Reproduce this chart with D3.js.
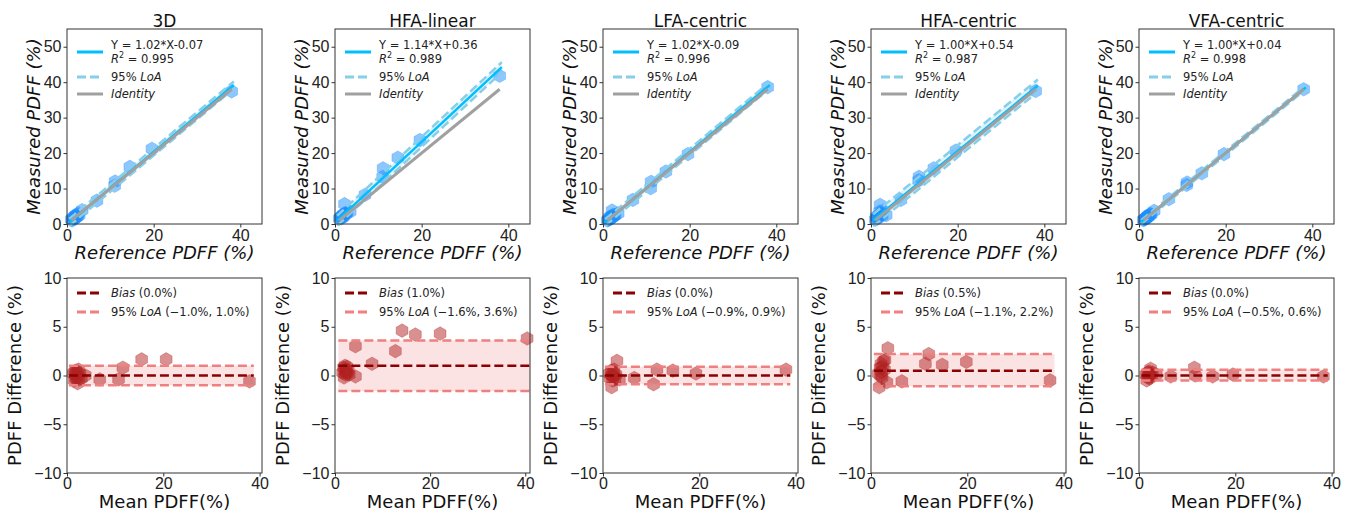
<!DOCTYPE html>
<html>
<head>
<meta charset="utf-8">
<script src="https://cdn.jsdelivr.net/npm/d3@7"></script>
<style>
    body { margin: 0; background: #fff; }
    svg { font-family: "DejaVu Sans", sans-serif; }
    .tick text { fill: #222; }
    .tick line { stroke: #333; }
</style>
</head>
<body>
<div id="chart"></div>
<script>
// methods, one column of panels each
const methods = ["3D", "HFA-linear", "LFA-centric", "HFA-centric", "VFA-centric"];

// regression fit (top row)
const fitSlope = [1.02, 1.14, 1.02, 1.00, 1.00];
const fitIntercept = [-0.07, 0.36, -0.09, 0.54, 0.04];
const fitR2 = [0.995, 0.989, 0.996, 0.987, 0.998];
const fitLoaOffset = [1.0, 1.4, 0.9, 1.7, 0.55];
const fitRange = [0.5, 38.5];
const identityRange = [1.0, 38.0];

// reference PDFF, same subjects in every method
const refPdff = [1.0, 1.2, 1.4, 1.5, 1.6, 1.8, 1.9, 2.0, 2.1, 2.2, 2.4, 2.6, 2.8, 3.5, 6.9, 11.0, 11.1, 14.5, 19.6, 38.0];

const measuredPdff = [
    [1.3, 1.0, 1.8, 1.6, 1.4, 2.2, 1.7, 2.4, 2.0, 2.6, 2.1, 3.0, 2.5, 3.9, 6.6, 10.8, 12.0, 16.1, 21.2, 37.4],
    [1.5, 1.8, 2.0, 1.6, 2.2, 2.5, 2.0, 2.8, 2.4, 5.6, 3.0, 2.9, 3.3, 3.5, 8.2, 13.3, 15.7, 18.7, 23.7, 41.8],
    [1.0, 1.3, 1.2, 1.9, 1.5, 1.6, 2.2, 1.8, 3.8, 2.0, 2.6, 2.3, 2.5, 3.0, 6.8, 10.1, 11.9, 14.8, 19.7, 38.6],
    [1.2, 1.9, 1.6, 2.2, 1.8, 2.5, 2.3, 3.5, 5.4, 2.9, 3.0, 2.4, 3.8, 2.5, 6.8, 12.3, 13.3, 15.7, 20.7, 37.5],
    [1.1, 1.3, 1.5, 1.6, 1.5, 1.9, 2.0, 2.2, 2.0, 2.5, 2.4, 2.8, 2.7, 3.7, 7.0, 11.0, 11.7, 14.3, 19.7, 38.0]
];

// Bland-Altman (bottom row)
const baMean = [
    [1.3, 1.5, 1.6, 1.7, 1.8, 1.9, 2.0, 2.1, 2.2, 2.4, 2.5, 2.7, 3.0, 3.8, 6.8, 10.7, 11.6, 15.5, 20.6, 37.9],
    [1.6, 1.8, 1.9, 2.0, 2.1, 2.2, 2.3, 2.4, 2.5, 2.6, 2.8, 3.0, 4.3, 4.3, 7.8, 12.7, 14.1, 16.9, 22.1, 40.4],
    [1.3, 1.5, 1.7, 1.8, 1.9, 2.0, 2.1, 2.2, 2.3, 2.5, 2.7, 2.9, 3.4, 6.5, 10.5, 11.2, 14.5, 19.3, 38.0],
    [1.5, 1.7, 1.9, 2.0, 2.1, 2.2, 2.3, 2.4, 2.6, 2.8, 2.9, 3.3, 3.5, 6.4, 11.3, 12.0, 14.8, 19.8, 37.2],
    [1.4, 1.6, 1.8, 1.9, 2.0, 2.1, 2.2, 2.3, 2.4, 2.6, 2.8, 3.6, 6.6, 11.5, 11.7, 15.3, 19.5, 38.3]
];
const baDiff = [
    [0.2, -0.5, 0.4, 0.1, -0.3, 0.5, -0.2, 0.3, -0.8, 0.6, -0.4, 0.2, -0.3, 0.0, -0.4, -0.4, 0.8, 1.65, 1.65, -0.6],
    [0.3, 0.8, -0.2, 0.5, 1.0, 0.1, 0.6, 0.3, 0.9, 0.2, 0.5, 0.1, 3.0, -0.1, 1.2, 2.5, 4.6, 4.2, 4.3, 3.8],
    [0.2, -0.3, 0.5, -1.2, 0.0, -0.5, 0.3, -0.1, 0.6, -0.4, 0.1, 1.5, -0.4, -0.25, -0.9, 0.6, 0.5, 0.2, 0.6],
    [0.2, -1.2, 0.8, 0.0, 1.2, 0.4, -0.2, 0.9, 1.5, 0.6, 1.6, -0.7, 2.8, -0.6, 1.2, 2.2, 1.1, 1.4, -0.5],
    [0.1, -0.5, 0.3, -0.2, 0.0, 0.4, -0.3, 0.2, 0.7, -0.1, 0.3, 0.1, -0.1, 0.8, 0.0, -0.1, 0.1, -0.1]
];
const baBias = [0.0, 1.0, 0.0, 0.5, 0.0];
const baLoaLow = [-1.0, -1.6, -0.9, -1.1, -0.5];
const baLoaHigh = [1.0, 3.6, 0.9, 2.2, 0.6];
const baXMax = [40.5, 41, 40.5, 40.5, 40.5];

const topXTicks = [0, 20, 40];
const topYTicks = [0, 10, 20, 30, 40, 50];
const baXTicks = [0, 20, 40];
const baYTicks = [-10, -5, 0, 5, 10];

const width = 1348, height = 514;
const panelW = 195, panelH = 195;
const topY = 29, bottomY = 278;
const panelLeft = i => 67 + i * 268;

const svg = d3.select("#chart").append("svg")
    .attr("width", width)
    .attr("height", height);
svg.append("rect").attr("width", width).attr("height", height).attr("fill", "#fff");

// matplotlib style 'h' marker
const hexagon = {
    draw(context, size) {
        const r = Math.sqrt(size / (1.5 * Math.sqrt(3)));
        for (let k = 0; k < 6; k++) {
            const a = Math.PI / 2 + k * Math.PI / 3;
            const px = r * Math.cos(a), py = -r * Math.sin(a);
            if (k === 0) context.moveTo(px, py); else context.lineTo(px, py);
        }
        context.closePath();
    }
};
const marker = d3.symbol().type(hexagon).size(120);
const fmt1 = d3.format(".1f");

function styleAxis(g) {
    g.select(".domain").remove();
    g.selectAll(".tick text").style("font-size", "16px");
    g.selectAll(".tick line").attr("stroke-width", 1);
}

function frame(g) {
    g.append("rect")
        .attr("width", panelW).attr("height", panelH)
        .attr("fill", "none").attr("stroke", "#333").attr("stroke-width", 1);
}

function drawTop(i) {
    const g = svg.append("g").attr("transform", `translate(${panelLeft(i)},${topY})`);
    const x = d3.scaleLinear().domain([0, 45]).range([0, panelW]);
    const y = d3.scaleLinear().domain([0, 55]).range([panelH, 0]);
    const fit = v => fitSlope[i] * v + fitIntercept[i];

    g.append("g").attr("transform", `translate(0,${panelH})`)
        .call(d3.axisBottom(x).tickValues(topXTicks).tickSize(3.5).tickPadding(2))
        .call(styleAxis);
    g.append("g")
        .call(d3.axisLeft(y).tickValues(topYTicks).tickSize(3.5).tickPadding(2))
        .call(styleAxis);

    g.append("path")
        .datum(fitRange)
        .attr("fill", "#87ceeb").attr("opacity", 0.25)
        .attr("d", d3.area().x(d => x(d))
            .y0(d => y(fit(d) - fitLoaOffset[i]))
            .y1(d => y(fit(d) + fitLoaOffset[i])));

    g.selectAll(".pt")
        .data(refPdff.map((r, k) => [r, measuredPdff[i][k]]))
        .join("path")
        .attr("class", "pt")
        .attr("transform", d => `translate(${x(d[0])},${y(d[1])})`)
        .attr("d", marker)
        .attr("fill", "#1e90ff").attr("fill-opacity", 0.5)
        .attr("stroke", "#1e90ff").attr("stroke-opacity", 0.3);

    const line = d3.line().x(d => x(d[0])).y(d => y(d[1]));
    [-1, 1].forEach(s => {
        g.append("path")
            .datum(fitRange.map(v => [v, fit(v) + s * fitLoaOffset[i]]))
            .attr("fill", "none").attr("stroke", "#87ceeb").attr("stroke-width", 2.5)
            .attr("stroke-dasharray", "9,4").attr("d", line);
    });
    g.append("path")
        .datum(fitRange.map(v => [v, fit(v)]))
        .attr("fill", "none").attr("stroke", "#00bfff").attr("stroke-width", 2.5)
        .attr("d", line);
    g.append("path")
        .datum(identityRange.map(v => [v, v]))
        .attr("fill", "none").attr("stroke", "#a0a0a0").attr("stroke-width", 3)
        .attr("d", line);

    frame(g);

    // legend
    const lg = g.append("g").style("font-size", "11.5px").attr("fill", "#222");
    lg.append("line").attr("x1", 10).attr("x2", 36).attr("y1", 23).attr("y2", 23)
        .attr("stroke", "#00bfff").attr("stroke-width", 3);
    const sign = fitIntercept[i] < 0 ? "-" : "+";
    lg.append("text").attr("x", 44).attr("y", 20)
        .text(`Y = ${fitSlope[i].toFixed(2)}*X${sign}${Math.abs(fitIntercept[i]).toFixed(2)}`);
    const r2 = lg.append("text").attr("x", 44).attr("y", 34);
    r2.append("tspan").attr("font-style", "italic").text("R");
    r2.append("tspan").attr("dy", -5).style("font-size", "8px").text("2");
    r2.append("tspan").attr("dy", 5).text(` = ${fitR2[i].toFixed(3)}`);

    lg.append("line").attr("x1", 10).attr("x2", 36).attr("y1", 48).attr("y2", 48)
        .attr("stroke", "#87ceeb").attr("stroke-width", 3).attr("stroke-dasharray", "9,4");
    const loa = lg.append("text").attr("x", 44).attr("y", 52);
    loa.append("tspan").text("95% ");
    loa.append("tspan").attr("font-style", "italic").text("LoA");

    lg.append("line").attr("x1", 10).attr("x2", 36).attr("y1", 65).attr("y2", 65)
        .attr("stroke", "#a0a0a0").attr("stroke-width", 3);
    lg.append("text").attr("x", 44).attr("y", 69).attr("font-style", "italic").text("Identity");

    // titles
    g.append("text").attr("x", panelW / 2).attr("y", -2).attr("text-anchor", "middle")
        .style("font-size", "17px").attr("fill", "#111").text(methods[i]);
    g.append("text").attr("x", panelW / 2).attr("y", panelH + 35).attr("text-anchor", "middle")
        .style("font-size", "18px").attr("font-style", "italic").attr("fill", "#111")
        .text("Reference PDFF (%)");
    g.append("text").attr("transform", `translate(-27,${panelH / 2}) rotate(-90)`)
        .attr("text-anchor", "middle")
        .style("font-size", "18px").attr("font-style", "italic").attr("fill", "#111")
        .text("Measured PDFF (%)");
}

function drawBa(i) {
    const g = svg.append("g").attr("transform", `translate(${panelLeft(i)},${bottomY})`);
    const x = d3.scaleLinear().domain([0, baXMax[i]]).range([0, panelW]);
    const y = d3.scaleLinear().domain([-10, 10]).range([panelH, 0]);

    g.append("g").attr("transform", `translate(0,${panelH})`)
        .call(d3.axisBottom(x).tickValues(baXTicks).tickSize(3.5).tickPadding(1.5))
        .call(styleAxis);
    g.append("g")
        .call(d3.axisLeft(y).tickValues(baYTicks).tickSize(3.5).tickPadding(2).tickFormat(d3.format("d")))
        .call(styleAxis);

    const ext = d3.extent(baMean[i]);
    const band = [Math.max(0, ext[0] - 0.9), Math.min(baXMax[i], ext[1] + 0.9)];

    g.append("rect")
        .attr("x", x(band[0])).attr("width", x(band[1]) - x(band[0]))
        .attr("y", y(baLoaHigh[i])).attr("height", y(baLoaLow[i]) - y(baLoaHigh[i]))
        .attr("fill", "#f08080").attr("opacity", 0.22);

    g.selectAll(".pt")
        .data(baMean[i].map((m, k) => [m, baDiff[i][k]]))
        .join("path")
        .attr("class", "pt")
        .attr("transform", d => `translate(${x(d[0])},${y(d[1])})`)
        .attr("d", marker)
        .attr("fill", "#b22222").attr("fill-opacity", 0.5)
        .attr("stroke", "#b22222").attr("stroke-opacity", 0.3);

    [baLoaLow[i], baLoaHigh[i]].forEach(v => {
        g.append("line")
            .attr("x1", x(band[0])).attr("x2", x(band[1]))
            .attr("y1", y(v)).attr("y2", y(v))
            .attr("stroke", "#f08080").attr("stroke-width", 2.5).attr("stroke-dasharray", "9,4");
    });
    g.append("line")
        .attr("x1", x(band[0])).attr("x2", x(band[1]))
        .attr("y1", y(baBias[i])).attr("y2", y(baBias[i]))
        .attr("stroke", "#8b0000").attr("stroke-width", 2.5).attr("stroke-dasharray", "9,4");

    frame(g);

    const lg = g.append("g").style("font-size", "11.5px").attr("fill", "#222");
    lg.append("line").attr("x1", 10).attr("x2", 36).attr("y1", 15).attr("y2", 15)
        .attr("stroke", "#8b0000").attr("stroke-width", 3).attr("stroke-dasharray", "9,4");
    const b = lg.append("text").attr("x", 44).attr("y", 19);
    b.append("tspan").attr("font-style", "italic").text("Bias");
    b.append("tspan").text(` (${fmt1(baBias[i])}%)`);

    lg.append("line").attr("x1", 10).attr("x2", 36).attr("y1", 34).attr("y2", 34)
        .attr("stroke", "#f08080").attr("stroke-width", 3).attr("stroke-dasharray", "9,4");
    const l = lg.append("text").attr("x", 44).attr("y", 38);
    l.append("tspan").text("95% ");
    l.append("tspan").attr("font-style", "italic").text("LoA");
    l.append("tspan").text(` (${fmt1(baLoaLow[i])}%, ${fmt1(baLoaHigh[i])}%)`);

    g.append("text").attr("x", panelW / 2).attr("y", panelH + 35).attr("text-anchor", "middle")
        .style("font-size", "18px").attr("fill", "#111").text("Mean PDFF(%)");
    g.append("text").attr("transform", `translate(-46,${panelH / 2}) rotate(-90)`)
        .attr("text-anchor", "middle")
        .style("font-size", "18px").attr("fill", "#111").text("PDFF Difference (%)");
}

methods.forEach((m, i) => {
    drawTop(i);
    drawBa(i);
});
</script>
</body>
</html>
